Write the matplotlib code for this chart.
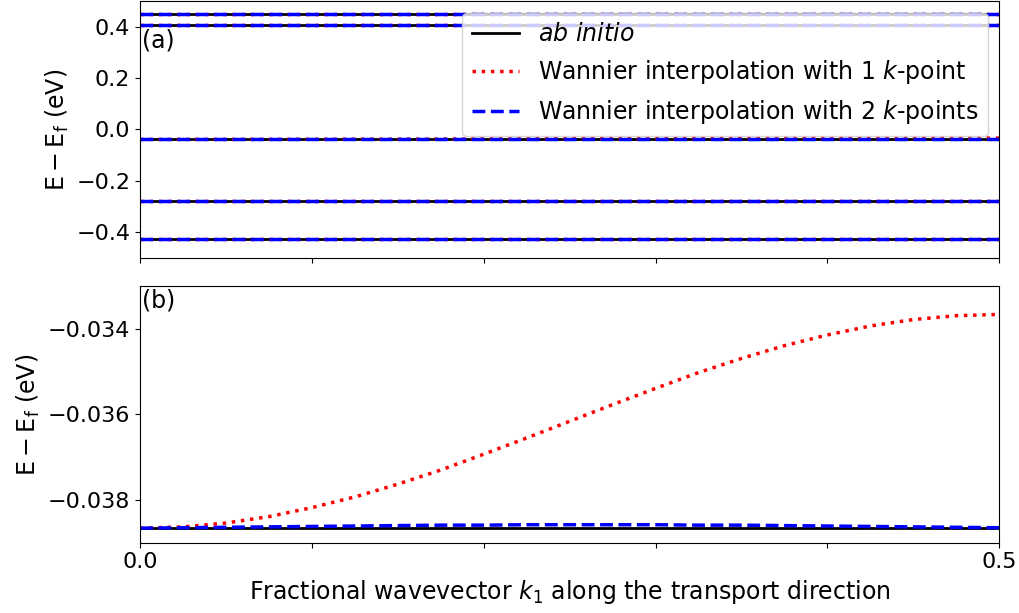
import numpy as np
import matplotlib
matplotlib.use("Agg")
import matplotlib.pyplot as plt
from matplotlib.ticker import FixedLocator, FixedFormatter

# fractional wavevector sampling
k = [0.0, 0.025, 0.05, 0.075, 0.1, 0.125, 0.15, 0.175, 0.2, 0.225, 0.25,
     0.275, 0.3, 0.325, 0.35, 0.375, 0.4, 0.425, 0.45, 0.475, 0.5]
k_ends = [0.0, 0.5]

# flat bands in panel (a), eV
bands_abinitio = [0.452, 0.4075, -0.0387, -0.279, -0.426]
bands_wannier2 = [0.452, 0.4075, -0.0387, -0.279, -0.426]
bands_wannier1 = [0.452, 0.4072, None, -0.2787, -0.4258]

# band near Ef, panel (b), eV
ab_initio_b = [-0.03866] * len(k)
wannier1_b = [-0.03866, -0.03863, -0.03854, -0.03839, -0.03818, -0.03793,
              -0.03763, -0.03730, -0.03693, -0.03655, -0.03616, -0.03577,
              -0.03539, -0.03502, -0.03469, -0.03439, -0.03414, -0.03393,
              -0.03378, -0.03369, -0.03366]
wannier2_b = [-0.03866, -0.03865, -0.03864, -0.03863, -0.03862, -0.03861,
              -0.03860, -0.03859, -0.03859, -0.03858, -0.03858, -0.03858,
              -0.03858, -0.03859, -0.03859, -0.03860, -0.03861, -0.03862,
              -0.03863, -0.03864, -0.03865]

fs = 17
plt.rcParams['font.size'] = fs
plt.rcParams['xtick.labelsize'] = 16
plt.rcParams['ytick.labelsize'] = 16

fig, (ax1, ax2) = plt.subplots(2, 1, figsize=(10.19, 6.13), dpi=100, sharex=True)
fig.subplots_adjust(left=0.1374, right=0.9807, top=0.998, bottom=0.1147, hspace=0.111)

for i, e in enumerate(bands_abinitio):
    ax1.plot(k_ends, [e, e], color='black', lw=2,
             label=r'$ab\ initio$' if i == 0 else None)
first = True
for i, e in enumerate(bands_wannier1):
    if e is None:
        ax1.plot(k, wannier1_b, color='red', ls=':', lw=2.5)
    else:
        ax1.plot(k_ends, [e, e], color='red', ls=':', lw=2.5,
                 label=r'Wannier interpolation with 1 $k$-point' if first else None)
        first = False
for i, e in enumerate(bands_wannier2):
    ax1.plot(k_ends, [e, e], color='blue', ls='--', lw=2.5,
             label=r'Wannier interpolation with 2 $k$-points' if i == 0 else None)

ax1.set_ylim(-0.5, 0.5)
ax1.set_yticks([-0.4, -0.2, 0.0, 0.2, 0.4])
ax1.set_ylabel(r'$\mathrm{E-E_f}$ (eV)')
ax1.text(0.002, 0.892, '(a)', transform=ax1.transAxes, ha='left', va='top')
ax1.legend(loc='upper right', fontsize=fs)

ax2.plot(k, ab_initio_b, color='black', lw=2)
ax2.plot(k, wannier1_b, color='red', ls=':', lw=2.5)
ax2.plot(k, wannier2_b, color='blue', ls='--', lw=2.5)
ax2.set_ylim(-0.039, -0.033)
ax2.set_yticks([-0.038, -0.036, -0.034])
ax2.set_ylabel(r'$\mathrm{E-E_f}$ (eV)')
ax2.text(0.002, 0.99, '(b)', transform=ax2.transAxes, ha='left', va='top')

ax2.set_xlim(0, 0.5)
ax2.xaxis.set_major_locator(FixedLocator([0.0, 0.1, 0.2, 0.3, 0.4, 0.5]))
ax2.xaxis.set_major_formatter(FixedFormatter(['0.0', '', '', '', '', '0.5']))
ax2.set_xlabel(r'Fractional wavevector $k_1$ along the transport direction')

fig.savefig('out.png', dpi=100)
